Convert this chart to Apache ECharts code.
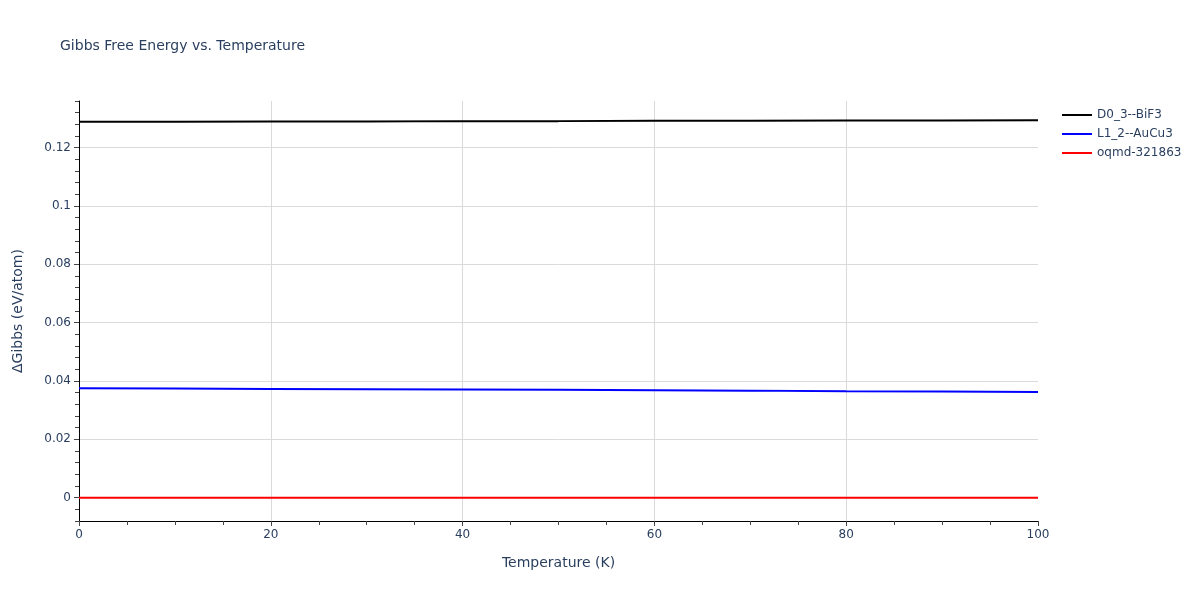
<!DOCTYPE html>
<html>
<head>
<meta charset="utf-8">
<script src="https://cdn.jsdelivr.net/npm/echarts@6/dist/echarts.min.js"></script>
<style>
  html, body { margin: 0; padding: 0; background: #fff; }
  #chart { width: 1200px; height: 600px; }
</style>
</head>
<body>
<div id="chart"></div>
<script>
// temperature samples (K)
const temperature = [0, 10, 20, 30, 40, 50, 60, 70, 80, 90, 100];
// ΔGibbs values (eV/atom)
const d03BiF3 = [0.1289, 0.1289, 0.1290, 0.1290, 0.1291, 0.1291, 0.1292, 0.1292, 0.1293, 0.1293, 0.1294];
const l12AuCu3 = [0.0375, 0.0374, 0.0373, 0.0372, 0.0371, 0.0370, 0.0368, 0.0367, 0.0365, 0.0364, 0.0362];
const oqmd321863 = [0, 0, 0, 0, 0, 0, 0, 0, 0, 0, 0];
const seriesNames = ['D0_3--BiF3', 'L1_2--AuCu3', 'oqmd-321863'];
const seriesColors = ['#000000', '#0000ff', '#ff0000'];

const pairs = (ys) => temperature.map((t, i) => [t, ys[i]]);

const chart = echarts.init(document.getElementById('chart'), null, { renderer: 'canvas' });
const font = '"DejaVu Sans", Verdana, sans-serif';
const textColor = '#2a3f5f';

const option = {
  animation: false,
  title: {
    text: 'Gibbs Free Energy vs. Temperature',
    left: 55,
    top: 34,
    textStyle: { fontFamily: font, fontSize: 14, fontWeight: 'normal', color: textColor }
  },
  legend: {
    orient: 'vertical',
    left: 1057,
    top: 103,
    itemWidth: 30,
    itemHeight: 2,
    itemGap: 5,
    icon: 'rect',
    data: seriesNames,
    textStyle: { fontFamily: font, fontSize: 12, color: textColor, lineHeight: 14 }
  },
  grid: { left: 79, right: 162, top: 101, bottom: 79, containLabel: false },
  xAxis: {
    type: 'value',
    min: 0,
    max: 100,
    interval: 20,
    name: 'Temperature (K)',
    nameLocation: 'middle',
    nameGap: 35,
    nameTextStyle: { fontFamily: font, fontSize: 14, color: textColor },
    axisLine: { show: true, onZero: false, lineStyle: { color: '#000', width: 1 } },
    axisTick: { show: true, length: 5, lineStyle: { color: '#444' } },
    minorTick: { show: true, splitNumber: 4, length: 4, lineStyle: { color: '#444' } },
    axisLabel: { fontFamily: font, fontSize: 12, color: textColor, margin: 8 },
    splitLine: { show: true, showMinLine: false, showMaxLine: false, lineStyle: { color: '#dadada', width: 1 } }
  },
  yAxis: [
    {
      type: 'value',
      min: -0.008,
      max: 0.136,
      splitNumber: 7,
      position: 'left',
      name: 'ΔGibbs (eV/atom)',
      nameLocation: 'middle',
      nameGap: 54,
      nameTextStyle: { fontFamily: font, fontSize: 14, color: textColor },
      axisLine: { show: true, onZero: false, lineStyle: { color: '#000', width: 1 } },
      axisTick: { show: true, length: 5, lineStyle: { color: '#444' } },
      axisLabel: { fontFamily: font, fontSize: 12, color: textColor, margin: 8, showMinLabel: false, showMaxLabel: false },
      splitLine: { show: true, showMinLine: false, showMaxLine: false, lineStyle: { color: '#dadada', width: 1 } }
    },
    {
      // minor ticks every 0.004
      type: 'value',
      min: -0.008,
      max: 0.136,
      interval: 0.004,
      position: 'left',
      offset: 0,
      axisLine: { show: false },
      axisTick: { show: true, length: 4, lineStyle: { color: '#444' } },
      axisLabel: { show: false },
      splitLine: { show: false }
    }
  ],
  series: [d03BiF3, l12AuCu3, oqmd321863].map((ys, i) => ({
    name: seriesNames[i],
    type: 'line',
    yAxisIndex: 0,
    data: pairs(ys),
    showSymbol: false,
    symbol: 'none',
    lineStyle: { color: seriesColors[i], width: 2 },
    itemStyle: { color: seriesColors[i] }
  }))
};
chart.setOption(option);
</script>
</body>
</html>
